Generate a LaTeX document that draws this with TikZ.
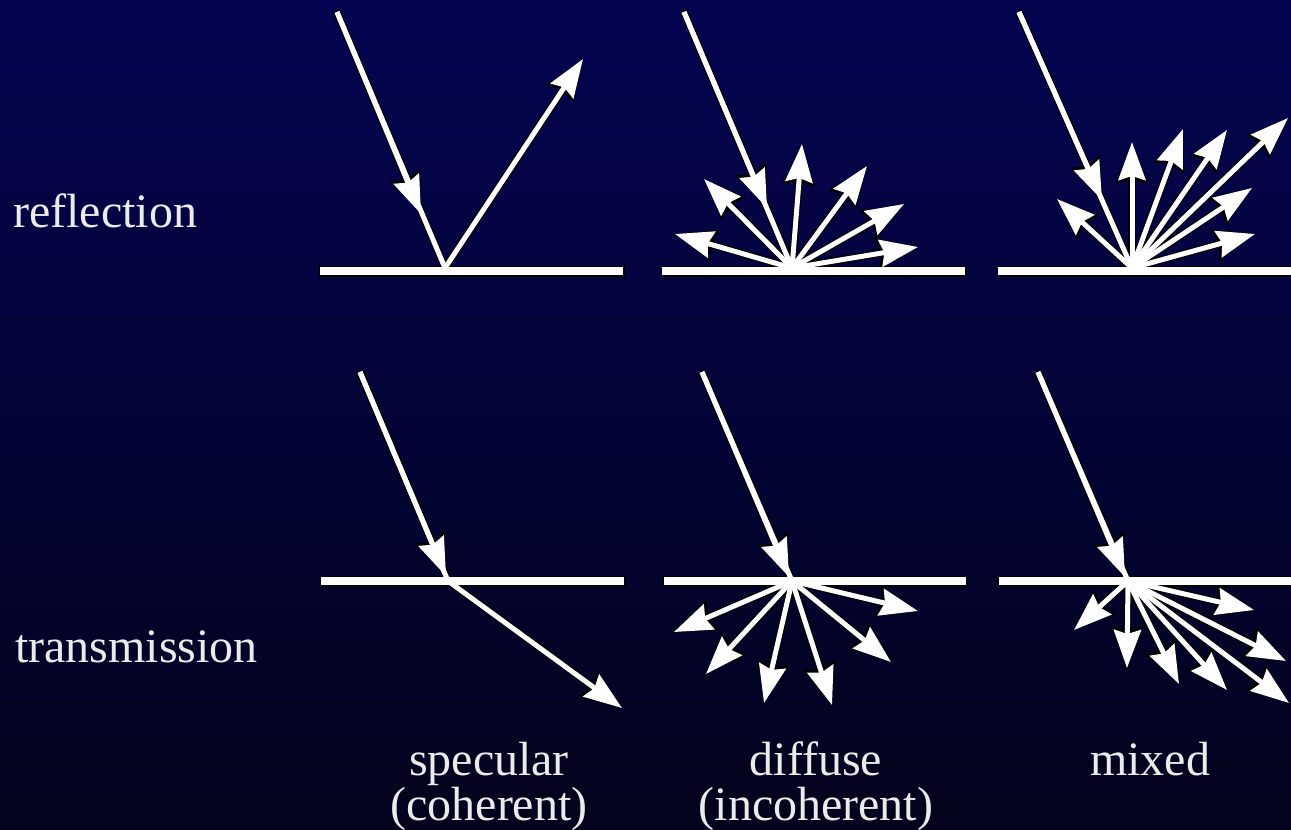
\documentclass[tikz,border=0pt]{standalone}
\usepackage{fontspec}
\setmainfont{Liberation Serif}
\usetikzlibrary{arrows.meta}
\definecolor{bgtop}{RGB}{4,4,82}
\definecolor{bgbot}{RGB}{3,3,28}
\definecolor{edgec}{RGB}{0,0,0}

\newcommand\paintgroup[2]{%
  \draw[surf] (#1l) -- (#1r);
  \draw[seg] (#1s) -- (#1h);
  \draw[ray] (#1s) -- (#1t);
  \foreach \k in {#2} {\draw[ray] (#1h) -- (#1o\k);}
}
\newcommand\paintall{%
  \paintgroup{A}{1}
  \paintgroup{B}{1,2,3,4,5,6}
  \paintgroup{C}{1,2,3,4,5,6,7}
  \paintgroup{D}{1}
  \paintgroup{E}{1,2,3,4,5,6}
  \paintgroup{F}{1,2,3,4,5,6,7}
}

\begin{document}
\begin{tikzpicture}[x=1pt,y=-1pt,
  lbl/.style={text=white!92!black, inner sep=0pt, font=\fontsize{48}{45}\selectfont}]
\clip (0,0) rectangle (1291,830);
\shade[top color=bgtop, bottom color=bgbot] (0,0) rectangle (1291,830);

% ---- coordinates ----
% A: specular reflection
\coordinate (Al) at (320,271); \coordinate (Ar) at (623,271);
\coordinate (As) at (337,12); \coordinate (At) at (421,214); \coordinate (Ah) at (445,268);
\coordinate (Ao1) at (583,59);
% B: diffuse reflection
\coordinate (Bl) at (662,271); \coordinate (Br) at (965,271);
\coordinate (Bs) at (684,12); \coordinate (Bt) at (767,208); \coordinate (Bh) at (792,268);
\coordinate (Bo1) at (675,234); \coordinate (Bo2) at (704,179); \coordinate (Bo3) at (802,144);
\coordinate (Bo4) at (867,166); \coordinate (Bo5) at (904,204); \coordinate (Bo6) at (918,247);
% C: mixed reflection
\coordinate (Cl) at (998,271); \coordinate (Cr) at (1300,271);
\coordinate (Cs) at (1019,12); \coordinate (Ct) at (1102,200); \coordinate (Ch) at (1132,268);
\coordinate (Co1) at (1057,199); \coordinate (Co2) at (1132,142); \coordinate (Co3) at (1183,129);
\coordinate (Co4) at (1227,130); \coordinate (Co5) at (1288,118); \coordinate (Co6) at (1252,188);
\coordinate (Co7) at (1255,234);
% D: specular transmission
\coordinate (Dl) at (321,581); \coordinate (Dr) at (624,581);
\coordinate (Ds) at (360,372); \coordinate (Dt) at (446,576); \coordinate (Dh) at (448,581);
\coordinate (Do1) at (622,708);
% E: diffuse transmission
\coordinate (El) at (664,581); \coordinate (Er) at (966,581);
\coordinate (Es) at (702,372); \coordinate (Et) at (789,577); \coordinate (Eh) at (792,581);
\coordinate (Eo1) at (674,632); \coordinate (Eo2) at (706,674); \coordinate (Eo3) at (764,703);
\coordinate (Eo4) at (832,705); \coordinate (Eo5) at (891,662); \coordinate (Eo6) at (918,611);
% F: mixed transmission
\coordinate (Fl) at (999,581); \coordinate (Fr) at (1300,581);
\coordinate (Fs) at (1038,372); \coordinate (Ft) at (1125,577); \coordinate (Fh) at (1128,581);
\coordinate (Fo1) at (1074,630); \coordinate (Fo2) at (1127,668); \coordinate (Fo3) at (1179,684);
\coordinate (Fo4) at (1227,690); \coordinate (Fo5) at (1289,703); \coordinate (Fo6) at (1286,661);
\coordinate (Fo7) at (1254,610);

% ---- dark edge pass ----
\begin{scope}[
  surf/.style={draw=edgec, line width=11pt, shorten <=-1.5pt, shorten >=-1.5pt},
  ray/.style={draw=edgec, line width=7.5pt, shorten <=-1.5pt,
    -{Stealth[length=41pt, width=31pt, inset=4pt]}},
  seg/.style={draw=edgec, line width=7.5pt, shorten <=-1.5pt}]
\paintall
\end{scope}
% ---- white pass ----
\begin{scope}[
  surf/.style={draw=white, line width=8pt},
  ray/.style={draw=white, line width=5pt,
    -{Stealth[length=38pt, width=27pt, inset=4pt]}},
  seg/.style={draw=white, line width=5pt}]
\paintall
\end{scope}

% ---- labels ----
\node[lbl, anchor=base west] (refl) at (13,227) {reflection};
\node[lbl, anchor=base west] (trans) at (15,662) {transmission};
\node[lbl, anchor=base] (spec1) at (489,775) {specular};
\node[lbl, anchor=base] (spec2) at (489,820) {(coherent)};
\node[lbl, anchor=base] (diff1) at (816,775) {diffuse};
\node[lbl, anchor=base] (diff2) at (816,820) {(incoherent)};
\node[lbl, anchor=base] (mix1) at (1150,775) {mixed};
\end{tikzpicture}
\end{document}
